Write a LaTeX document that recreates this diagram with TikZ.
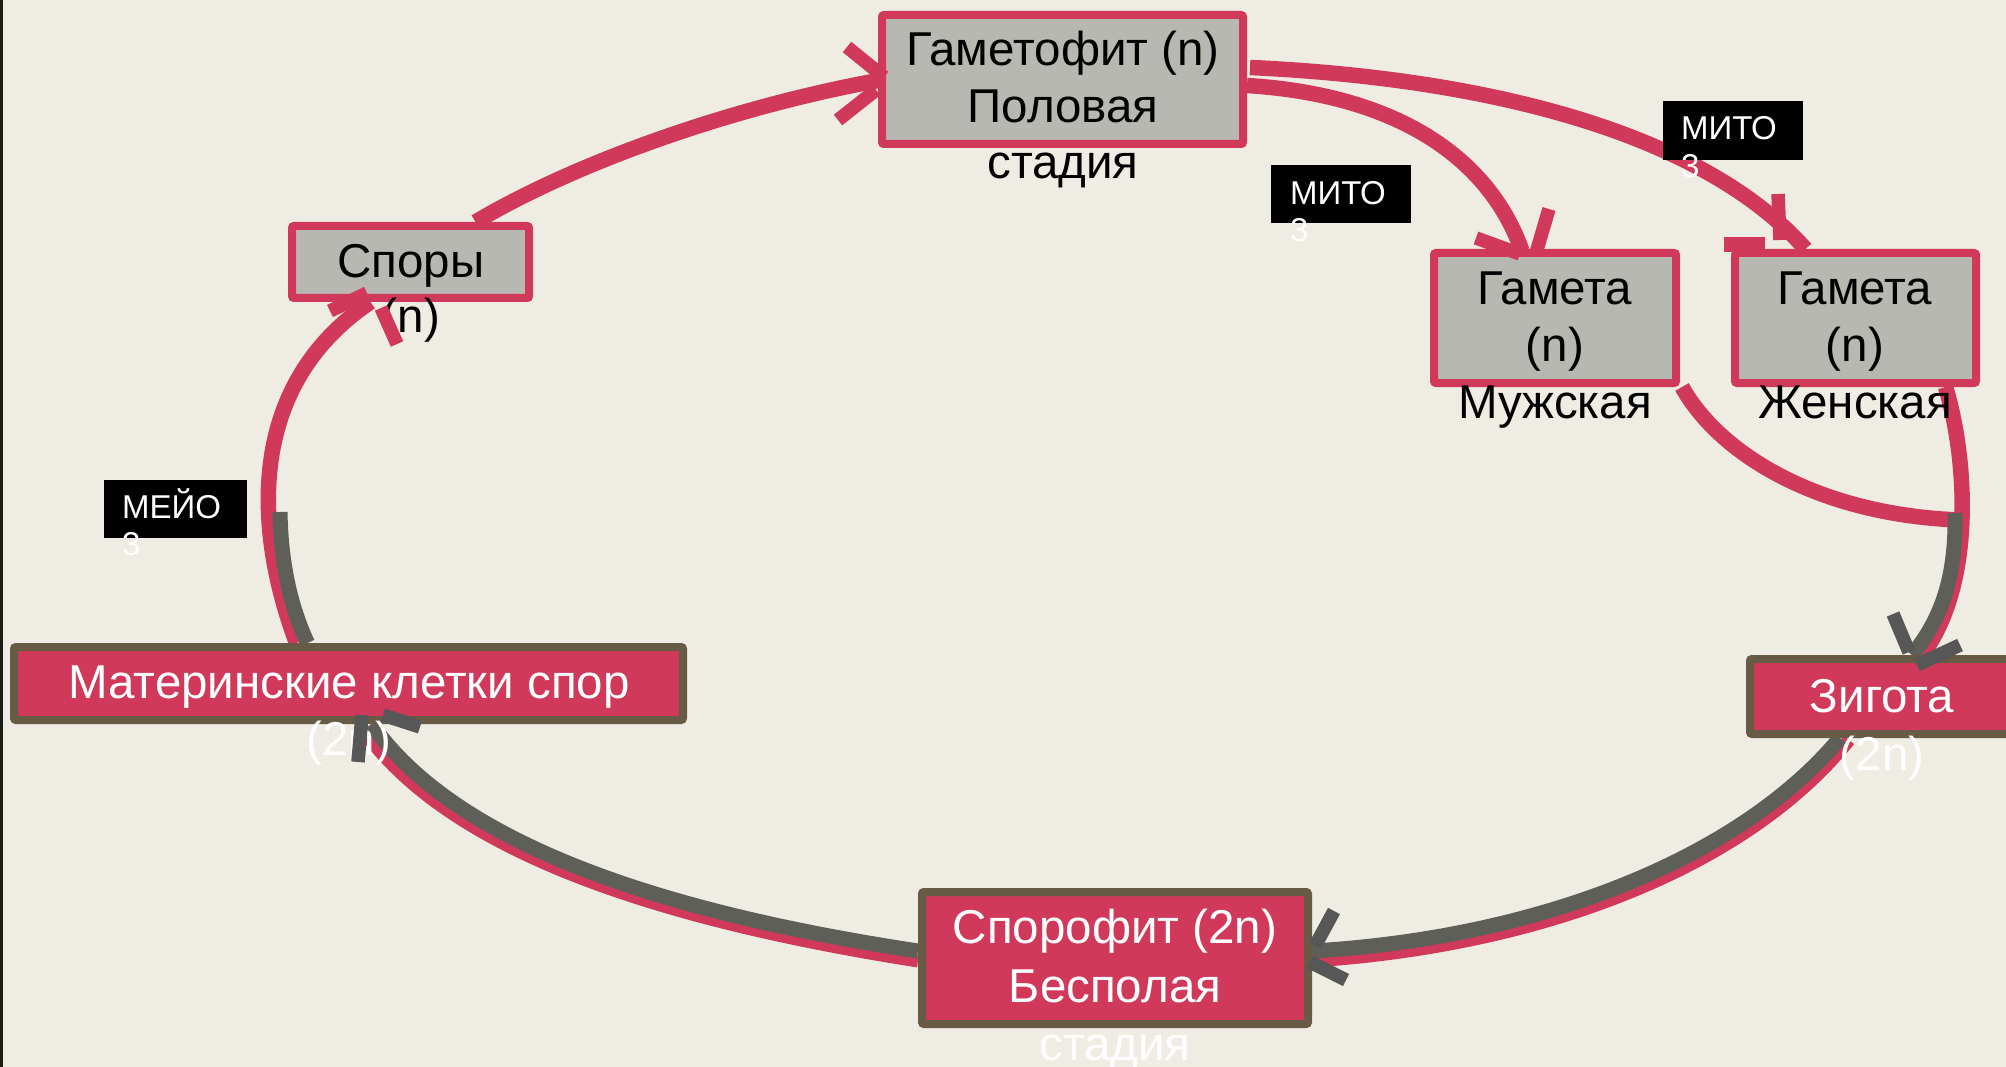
\documentclass[tikz,border=0pt]{standalone}
\usepackage{fontspec}
\setmainfont{Liberation Sans}
\usetikzlibrary{calc}
\definecolor{bg}{HTML}{EFECE3}
\definecolor{edge}{HTML}{1C1C12}
\definecolor{cred}{HTML}{D1395A}
\definecolor{gfill}{HTML}{B8B8B2}
\definecolor{dborder}{HTML}{675B46}
\definecolor{gline}{HTML}{5F5F5A}
\definecolor{garm}{HTML}{575757}
\pgfdeclarelayer{bglayer}
\pgfdeclarelayer{connlayer}
\pgfdeclarelayer{toplayer}
\pgfsetlayers{bglayer,connlayer,main,toplayer}
\begin{document}
\begin{tikzpicture}[x=1pt,y=-1pt,
  gbox/.style={draw=cred, line width=8pt, fill=gfill, rounded corners=2pt, inner sep=0pt},
  rbox/.style={draw=dborder, line width=8pt, fill=cred, rounded corners=2pt, inner sep=0pt},
  lblbox/.style={fill=black, inner sep=0pt},
  btxt/.style={font=\fontsize{47.5}{56}\selectfont, text=black, inner sep=0pt, anchor=base},
  wtxt/.style={btxt, text=white},
  stxt/.style={font=\fontsize{33}{37}\selectfont, text=white, inner sep=0pt, anchor=base west},
  redline/.style={draw=cred, line width=15.5pt},
  redthin/.style={draw=cred, line width=13pt},
  greyline/.style={draw=gline, line width=15pt},
  redarm/.style={draw=cred, line width=13.5pt},
  greyarm/.style={draw=garm, line width=13.5pt}]
\useasboundingbox (0,0) rectangle (2006,1067);
\begin{pgfonlayer}{bglayer}
\fill[bg] (0,0) rectangle (2006,1067);
\fill[edge] (0,0) rectangle (3,1067);
\end{pgfonlayer}

% boxes
\path
  node[gbox, minimum width=361pt, minimum height=129pt] (gam) at (1062.5,79.5) {}
  node[gbox, minimum width=237pt, minimum height=72pt] (spory) at (410.5,262) {}
  node[gbox, minimum width=242pt, minimum height=130pt] (gmale) at (1555,318) {}
  node[gbox, minimum width=241pt, minimum height=130pt] (gfem) at (1855.5,318) {}
  node[rbox, minimum width=264pt, minimum height=75pt] (zyg) at (1882,696.5) {}
  node[rbox, minimum width=669pt, minimum height=73pt] (mat) at (348.5,683.5) {}
  node[rbox, minimum width=386pt, minimum height=132pt] (spor) at (1115,958) {};

\coordinate (fuse) at (1960,520);
\coordinate (meiostart) at (280,512);

% connectors (behind the boxes)
\begin{pgfonlayer}{connlayer}
% spores -> gametophyte
\draw[redline] ($(spory.north)+(65,0)$) .. controls (580,160) and (740,105) .. ($(gam.west)+(6,0)$);
% gametophyte -> male gamete
\draw[redline] ($(gam.east)+(0,6)$) .. controls (1400,95) and (1490,160) .. ($(gmale.north)+(-33,2)$);
% gametophyte -> female gamete
\draw[redline] ($(gam.east)+(3,-12)$) .. controls (1480,78) and (1700,130) .. ($(gfem.north)+(-50,0)$);
% male gamete -> fusion
\draw[redline] ($(gmale.south east)+(2,0)$) .. controls (1720,455) and (1820,515) .. (fuse);
% female gamete -> zygote (red underlay)
\draw[redline] ($(gfem.south)+(90,0)$) .. controls (1965,450) and (1978,580) .. ($(zyg.north)+(40,0)$);
% fusion -> zygote (grey)
\draw[greyline] ($(fuse)+(-5,-7)$) .. controls (1956,570) and (1945,615) .. ($(zyg.north)+(30,0)$);
% zygote -> sporophyte
\draw[redthin] ($(zyg.south west)+(103,2)$) .. controls (1748,866) and (1545,946) .. ($(spor.east)+(0,3)$);
\draw[greyline] ($(zyg.south west)+(94,0)$) .. controls (1740,858) and (1540,938) .. ($(spor.east)+(0,-7)$);
% sporophyte -> spore mother cells
\draw[redthin] ($(spor.west)+(0,3)$) .. controls (676,923) and (456,858) .. ($(mat.south)+(16,8)$);
\draw[greyline] ($(spor.west)+(0,-7)$) .. controls (680,915) and (460,850) .. ($(mat.south)+(23,0)$);
% spore mother cells -> spores (meiosis)
\draw[redline] ($(mat.north)+(-52,0)$) .. controls (258,540) and (240,390) .. ($(spory.south)+(-40,0)$);
\draw[greyline] (meiostart) .. controls (281,570) and (293,612) .. ($(mat.north)+(-41,0)$);
\end{pgfonlayer}

% texts
\node[btxt] (gamT1) at (1063,66) {Гаметофит (n)};
\node[btxt] (gamT2) at (1063,123) {Половая};
\node[btxt] (gamT3) at (1063,179) {стадия};
\node[btxt] (sporyT1) at (411,278) {Споры};
\node[btxt] (sporyT2) at (411,333) {(n)};
\node[btxt] (gmT1) at (1555,305) {Гамета};
\node[btxt] (gmT2) at (1555,362) {(n)};
\node[btxt] (gmT3) at (1555,418) {Мужская};
\node[btxt] (gfT1) at (1855,305) {Гамета};
\node[btxt] (gfT2) at (1855,362) {(n)};
\node[btxt] (gfT3) at (1855,418) {Женская};
\node[wtxt] (zygT1) at (1882,712) {Зигота};
\node[wtxt] (zygT2) at (1882,770) {(2n)};
\node[wtxt] (matT1) at (349,698) {Материнские клетки спор};
\node[wtxt] (matT2) at (349,755) {(2n)};
\node[wtxt] (sporT1) at (1115,943) {Спорофит (2n)};
\node[wtxt] (sporT2) at (1115,1002) {Бесполая};
\node[wtxt] (sporT3) at (1115,1060) {стадия};

% arrowhead arms
\begin{pgfonlayer}{toplayer}
\draw[redarm] (847,47) -- (884,77);
\draw[redarm] (838,120) -- (876,90);
\draw[redarm] (1476,238) -- (1520,254);
\draw[redarm] (1549,209) -- (1536,253);
\draw[redarm] (1778,194) -- (1780,240);
\draw[redarm, line width=15pt] (1724,244.5) -- (1765,244.5);
\draw[redarm] (330,311) -- (367,293);
\draw[redarm] (397,344) -- (381,308);
\draw[greyarm] (1893,614) -- (1909,652);
\draw[greyarm] (1917,665) -- (1960,645);
\draw[greyarm] (1334,911) -- (1315,946);
\draw[greyarm] (1310,962) -- (1346,980);
\draw[greyarm] (362,715) -- (358,762);
\draw[greyarm] (383,715) -- (420,727);

% labels
\node[lblbox, minimum width=140pt, minimum height=58pt] (mito1) at (1341,194) {};
\node[stxt] (mito1a) at (1290,205) {МИТО};
\node[stxt] (mito1b) at (1290,242) {3};
\node[lblbox, minimum width=140pt, minimum height=59pt] (mito2) at (1733,130.5) {};
\node[stxt] (mito2a) at (1681,140) {МИТО};
\node[stxt] (mito2b) at (1681,178) {3};
\node[lblbox, minimum width=143pt, minimum height=58pt] (meio) at (175.5,509) {};
\node[stxt] (meioa) at (122,518) {МЕЙО};
\node[stxt] (meiob) at (122,555) {3};
\end{pgfonlayer}
\end{tikzpicture}
\end{document}
